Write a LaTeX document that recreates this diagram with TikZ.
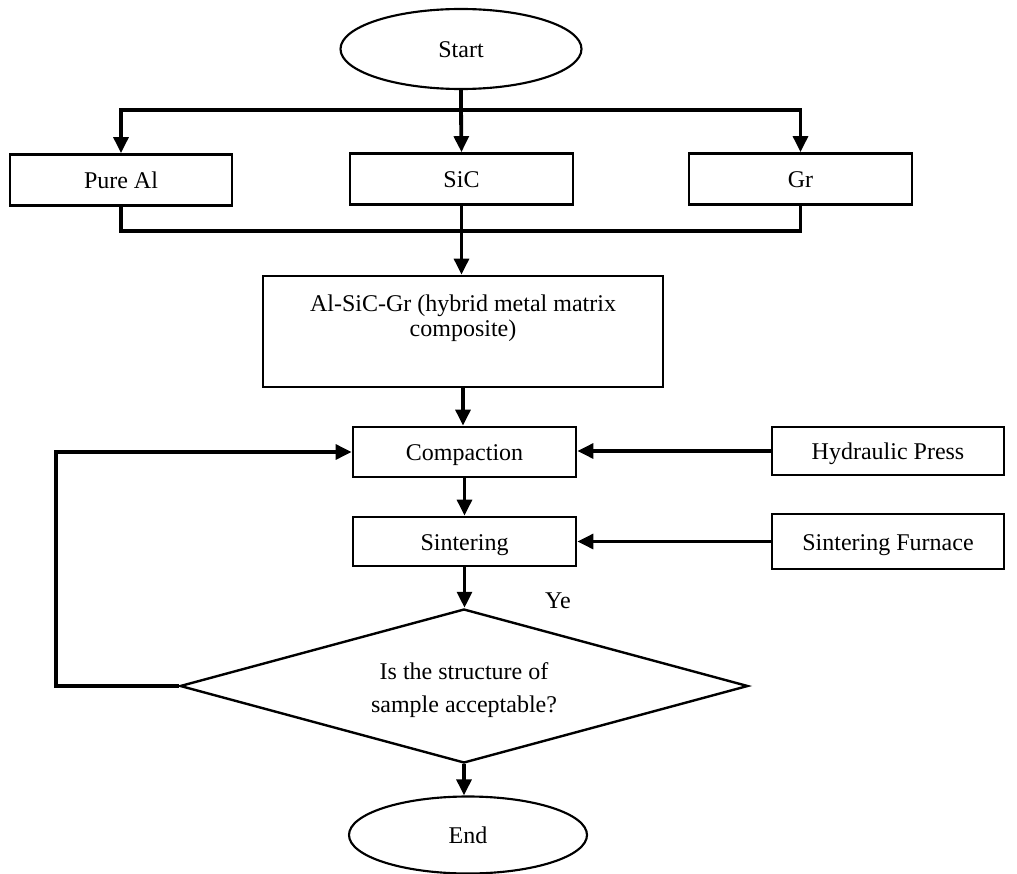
\documentclass[tikz,border=0pt]{standalone}
\usepackage{fontspec}
\setmainfont{Liberation Serif}
\usetikzlibrary{shapes.geometric,arrows.meta,positioning}

\tikzset{every picture/.style={line width=0.75pt}}
\tikzset{
  txt/.style={font=\fontsize{18pt}{18.5pt}\selectfont, inner sep=0.75pt},
  box/.style={draw, line width=2pt, txt, text height=15pt, text depth=2pt},
  oval/.style={draw, ellipse, line width=1.6pt, txt, text height=15pt, text depth=2pt},
  conn/.style={line width=2.9pt},
  arr/.style={conn, -{Triangle[length=12pt,width=11pt]}},
}

\begin{document}
\begin{tikzpicture}[x=0.75pt,y=0.75pt,yscale=-1]
\useasboundingbox (0,0) rectangle (1017,874);

%Shape: Ellipse [start]
\node[oval, minimum width=180.75pt, minimum height=60pt] (start) at (461,49) {Start};
%Shape: Rectangle [inputs]
\node[box, minimum width=166.5pt, minimum height=38.25pt] (pureal) at (121,180) {Pure Al};
\node[box, minimum width=167.25pt, minimum height=38.25pt] (sic) at (461.5,179) {SiC};
\node[box, minimum width=167.25pt, minimum height=38.25pt] (gr) at (800.5,179) {Gr};
%Shape: Rectangle [composite]
\node[box, minimum width=300pt, minimum height=83.25pt] (hybrid) at (463,331.5) {};
\node[txt, align=center, below=14pt of hybrid.north] (hybridtxt) {Al-SiC-Gr (hybrid metal matrix\\composite)};
%Shape: Rectangle [process]
\node[box, minimum width=167.25pt, minimum height=37.5pt] (comp) at (464.5,452) {Compaction};
\node[box, minimum width=167.25pt, minimum height=36.75pt] (sint) at (464.5,541.5) {Sintering};
\node[box, minimum width=174pt, minimum height=36pt] (hyd) at (888,451) {Hydraulic Press};
\node[box, minimum width=174pt, minimum height=41.25pt] (furn) at (888,541.5) {Sintering Furnace};
%Shape: Diamond [check]
\node[draw, diamond, line width=1.8pt, aspect=3.7, inner sep=0pt, minimum width=426pt, minimum height=115.5pt] (dec) at (464,686) {};
\node[txt, align=center, font=\fontsize{18pt}{25pt}\selectfont] (dectxt) at (464,690) {Is the structure of\\sample acceptable?};
%Shape: Ellipse [end]
\node[oval, minimum width=178.5pt, minimum height=57.75pt] (stop) at (468,835) {End};
% Text Node
\node[txt] (yes) at (558,601) {Ye};

\coordinate (split) at (461,110);
\coordinate (join) at (461,231);
\coordinate (loop) at (56,570);

%Straight Lines
\draw[conn] (start.south) -- (split);
\draw[arr] (split) -- (sic.north);
\draw[arr] (split) -| (pureal.north);
\draw[arr] (split) -| (gr.north);
\draw[conn] (pureal.south) |- (join) -| (gr.south);
\draw[arr] (sic.south) -- (sic.south |- hybrid.north);
\draw[arr] (hybrid.south) -- (hybrid.south |- comp.north);
\draw[arr] (hyd.west) -- (hyd.west -| comp.east);
\draw[arr] (comp.south) -- (sint.north);
\draw[arr] (furn.west) -- (furn.west -| sint.east);
\draw[arr] (sint.south) -- (sint.south |- dec.north);
\draw[arr] (dec.west) -- (dec.west -| loop) |- (comp.west);
\draw[arr] (dec.south) -- (dec.south |- stop.north);
\end{tikzpicture}
\end{document}
